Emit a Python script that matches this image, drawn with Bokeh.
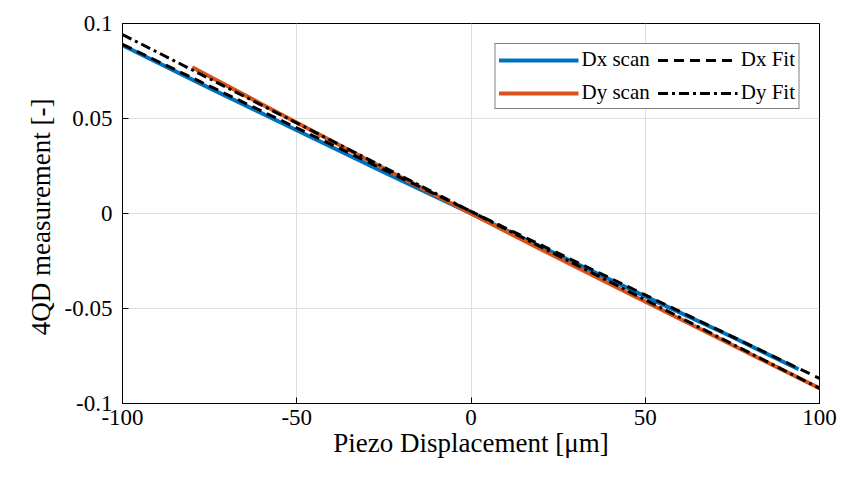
from bokeh.plotting import figure
from bokeh.models import FixedTicker, Legend, LegendItem, Range1d
from bokeh.embed import file_html
from bokeh.resources import INLINE

# Data
dx_scan_x = [-100, -75, -50, -25, 0, 25, 50, 75, 94]
dx_scan_y = [0.0885, 0.0660, 0.0438, 0.0218, 0.0, -0.0218, -0.0436, -0.0650, -0.0820]
dy_scan_x = [-80, -60, -40, -20, 0, 20, 40, 60, 80, 100]
dy_scan_y = [0.0770, 0.0575, 0.0382, 0.0190, 0.0, -0.0188, -0.0372, -0.0555, -0.0738, -0.0920]
dx_fit_x = [-100, 100]
dx_fit_y = [0.0890, -0.0868]
dy_fit_x = [-100, 100]
dy_fit_y = [0.0942, -0.0920]
x_ticks = [-100, -50, 0, 50, 100]
x_tick_labels = ["-100", "-50", "0", "50", "100"]
y_ticks = [-0.1, -0.05, 0, 0.05, 0.1]
y_tick_labels = ["-0.1", "-0.05", "0", "0.05", "0.1"]

FONT = "Liberation Serif"
BLUE = "#0072BD"
ORANGE = "#D95319"

p = figure(width=844, height=485, output_backend="svg", toolbar_location=None,
           x_range=Range1d(-100, 100), y_range=Range1d(-0.1, 0.1),
           min_border_left=122, min_border_right=25, min_border_top=23, min_border_bottom=82)

r1 = p.line(dx_scan_x, dx_scan_y, line_color=BLUE, line_width=4)
r2 = p.line(dy_scan_x, dy_scan_y, line_color=ORANGE, line_width=4)
r3 = p.line(dx_fit_x, dx_fit_y, line_color="black", line_width=3, line_dash="10 6")
r4 = p.line(dy_fit_x, dy_fit_y, line_color="black", line_width=3, line_dash="10 4 3 4")

p.outline_line_color = "black"
p.outline_line_width = 1
p.background_fill_color = "white"
p.border_fill_color = "white"

for ax in (p.xaxis[0], p.yaxis[0]):
    ax.major_label_text_font = FONT
    ax.major_label_text_font_size = "23px"
    ax.major_label_text_color = "black"
    ax.axis_label_text_font = FONT
    ax.axis_label_text_font_size = "27px"
    ax.axis_label_text_font_style = "normal"
    ax.axis_label_text_color = "black"
    ax.axis_line_color = "black"
    ax.major_tick_line_color = "black"
    ax.major_tick_in = 6
    ax.major_tick_out = 0
    ax.minor_tick_line_color = None

p.xaxis.ticker = FixedTicker(ticks=x_ticks)
p.yaxis.ticker = FixedTicker(ticks=y_ticks)
p.xaxis.major_label_overrides = {t: l for t, l in zip(x_ticks, x_tick_labels)}
p.yaxis.major_label_overrides = {t: l for t, l in zip(y_ticks, y_tick_labels)}
p.xaxis.major_label_standoff = 6
p.yaxis.major_label_standoff = 10
p.xaxis.axis_label = "Piezo Displacement [μm]"
p.yaxis.axis_label = "4QD measurement  [-]"
p.xaxis.axis_label_standoff = 0
p.yaxis.axis_label_standoff = 6

p.grid.grid_line_color = "#dfdfdf"
p.grid.grid_line_width = 1

legend = Legend(items=[LegendItem(label="Dx scan", renderers=[r1]),
                       LegendItem(label="Dx Fit", renderers=[r3]),
                       LegendItem(label="Dy scan", renderers=[r2]),
                       LegendItem(label="Dy Fit", renderers=[r4])],
                location="top_right", ncols=2, orientation="horizontal")
legend.label_text_font = FONT
legend.label_text_font_size = "21px"
legend.label_text_color = "black"
legend.glyph_width = 80
legend.glyph_height = 22
legend.label_standoff = 3
legend.spacing = 8
legend.padding = 3
legend.margin = 20
legend.border_line_color = "black"
legend.border_line_width = 1
legend.background_fill_alpha = 1
legend.label_height = 22
p.add_layout(legend)

open("out.html", "w").write(file_html(p, INLINE))
